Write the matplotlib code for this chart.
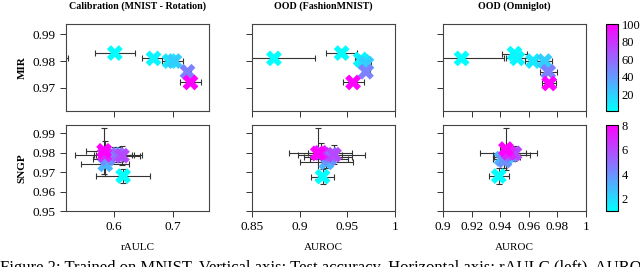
import matplotlib
matplotlib.use('Agg')
import matplotlib.pyplot as plt
import numpy as np
from matplotlib.colors import Normalize
from matplotlib.cm import ScalarMappable

plt.rcParams['font.family'] = ['Liberation Serif', 'DejaVu Serif']

titles = ['Calibration (MNIST - Rotation)', 'OOD (FashionMNIST)', 'OOD (Omniglot)']
row_labels = ['MIR', 'SNGP']
xlabels = ['rAULC', 'AUROC', 'AUROC']

# top row (MIR), colour value per point
mir_c = [1, 2, 5, 10, 20, 50, 100]
mir_cal_x = [0.47, 0.602, 0.667, 0.694, 0.702, 0.724, 0.729]
mir_cal_xe = [0.053, 0.034, 0.02, 0.012, 0.015, 0.006, 0.018]
mir_cal_y = [0.981, 0.983, 0.981, 0.980, 0.980, 0.976, 0.972]
mir_fm_x = [0.873, 0.944, 0.964, 0.967, 0.970, 0.9695, 0.956]
mir_fm_xe = [0.043, 0.016, 0.006, 0.006, 0.005, 0.004, 0.011]
mir_fm_y = [0.981, 0.983, 0.9806, 0.9797, 0.979, 0.976, 0.972]
mir_om_x = [0.913, 0.950, 0.952, 0.963, 0.971, 0.9736, 0.9743]
mir_om_xe = [0.03, 0.009, 0.008, 0.006, 0.005, 0.006, 0.005]
mir_om_y = [0.981, 0.9828, 0.981, 0.980, 0.980, 0.976, 0.9716]

# bottom row (SNGP)
sngp_c = [1, 2, 3, 4, 5, 6, 7, 8]
sngp_cal_x = [0.616, 0.600, 0.586, 0.590, 0.607, 0.614, 0.585, 0.584]
sngp_cal_xe = [0.045, 0.03, 0.04, 0.025, 0.04, 0.03, 0.05, 0.03]
sngp_cal_y = [0.968, 0.979, 0.974, 0.977, 0.979, 0.9785, 0.979, 0.981]
sngp_cal_ye = [0.0035, 0.004, 0.006, 0.003, 0.004, 0.005, 0.007, 0.012]
sngp_fm_x = [0.924, 0.930, 0.928, 0.931, 0.933, 0.936, 0.922, 0.919]
sngp_fm_xe = [0.012, 0.025, 0.028, 0.02, 0.035, 0.008, 0.033, 0.01]
sngp_fm_y = [0.9677, 0.978, 0.975, 0.977, 0.979, 0.979, 0.980, 0.9797]
sngp_fm_ye = [0.004, 0.003, 0.003, 0.004, 0.003, 0.005, 0.005, 0.013]
sngp_om_x = [0.939, 0.9445, 0.941, 0.943, 0.948, 0.950, 0.946, 0.944]
sngp_om_xe = [0.007, 0.009, 0.006, 0.004, 0.013, 0.008, 0.02, 0.004]
sngp_om_y = [0.968, 0.978, 0.977, 0.976, 0.979, 0.9797, 0.980, 0.9819]
sngp_om_ye = [0.004, 0.003, 0.003, 0.004, 0.003, 0.004, 0.003, 0.011]

fig = plt.figure(figsize=(6.4, 2.67), dpi=100)
lefts = [0.1031, 0.3938, 0.6922]
w = 0.2234
bottoms = [0.5854, 0.2097]
h = 0.3247

xlims = [(0.52, 0.76), (0.85, 1.0), (0.9, 1.0)]
xticks = [[0.6, 0.7], [0.85, 0.9, 0.95, 1.0], [0.9, 0.92, 0.94, 0.96, 0.98, 1.0]]
xticklabels = [['0.6', '0.7'], ['0.85', '0.9', '0.95', '1'],
               ['0.9', '0.92', '0.94', '0.96', '0.98', '1']]

top = [(mir_cal_x, mir_cal_xe, mir_cal_y), (mir_fm_x, mir_fm_xe, mir_fm_y),
       (mir_om_x, mir_om_xe, mir_om_y)]
bot = [(sngp_cal_x, sngp_cal_xe, sngp_cal_y, sngp_cal_ye),
       (sngp_fm_x, sngp_fm_xe, sngp_fm_y, sngp_fm_ye),
       (sngp_om_x, sngp_om_xe, sngp_om_y, sngp_om_ye)]

norm_top = Normalize(1, 100)
norm_bot = Normalize(1, 8)
cmap = plt.get_cmap('cool')


def style(ax):
    for s in ax.spines.values():
        s.set_color('#444444')
        s.set_linewidth(0.8)
    ax.tick_params(direction='out', length=4, width=0.7, labelsize=9.5, color='#333333')


for j in range(3):
    # MIR
    ax = fig.add_axes([lefts[j], bottoms[0], w, h])
    x, xe, y = top[j]
    ax.errorbar(x, y, xerr=xe, fmt='none', ecolor='#333333', elinewidth=0.8,
                capsize=2.5, capthick=0.8, zorder=2)
    ax.scatter(x, y, c=mir_c, cmap=cmap, norm=norm_top, marker='X', s=130,
               linewidths=0, zorder=3)
    ax.set_xlim(*xlims[j])
    ax.set_ylim(0.9614, 0.9939)
    ax.set_xticks(xticks[j])
    ax.set_xticklabels([])
    ax.set_yticks([0.97, 0.98, 0.99])
    if j == 0:
        ax.set_yticklabels(['0.97', '0.98', '0.99'])
        ax.set_ylabel(row_labels[0], fontweight='bold', fontsize=8)
    else:
        ax.set_yticklabels([])
    ax.set_title(titles[j], fontweight='bold', fontsize=7.2, pad=11)
    style(ax)

    # SNGP
    ax = fig.add_axes([lefts[j], bottoms[1], w, 0.3221])
    x, xe, y, ye = bot[j]
    ax.errorbar(x, y, xerr=xe, yerr=ye, fmt='none', ecolor='#333333', elinewidth=0.8,
                capsize=2.5, capthick=0.8, zorder=2)
    ax.scatter(x, y, c=sngp_c, cmap=cmap, norm=norm_bot, marker='X', s=130,
               linewidths=0, zorder=3)
    ax.set_xlim(*xlims[j])
    ax.set_ylim(0.95, 0.9943)
    ax.set_xticks(xticks[j])
    ax.set_xticklabels(xticklabels[j])
    ax.set_yticks([0.95, 0.96, 0.97, 0.98, 0.99])
    if j == 0:
        ax.set_yticklabels(['0.95', '0.96', '0.97', '0.98', '0.99'])
        ax.set_ylabel(row_labels[1], fontweight='bold', fontsize=8)
    else:
        ax.set_yticklabels([])
    ax.set_xlabel(xlabels[j], fontsize=8, labelpad=7)
    style(ax)

cax1 = fig.add_axes([0.9469, bottoms[0], 0.01875, h])
cb1 = fig.colorbar(ScalarMappable(norm=norm_top, cmap=cmap), cax=cax1, ticks=[20, 40, 60, 80, 100])
cax2 = fig.add_axes([0.9469, bottoms[1], 0.01875, 0.3221])
cb2 = fig.colorbar(ScalarMappable(norm=norm_bot, cmap=cmap), cax=cax2, ticks=[2, 4, 6, 8])
for cb in (cb1, cb2):
    cb.outline.set_linewidth(0.8)
    cb.ax.tick_params(length=0, labelsize=9, pad=2.5)

fig.text(0.0, -0.035, 'Figure 2: Trained on MNIST. Vertical axis: Test accuracy. Horizontal axis: rAULC (left), AUROC (middle, right).',
         fontsize=12, ha='left', va='bottom')

fig.savefig('out.png', dpi=100)
